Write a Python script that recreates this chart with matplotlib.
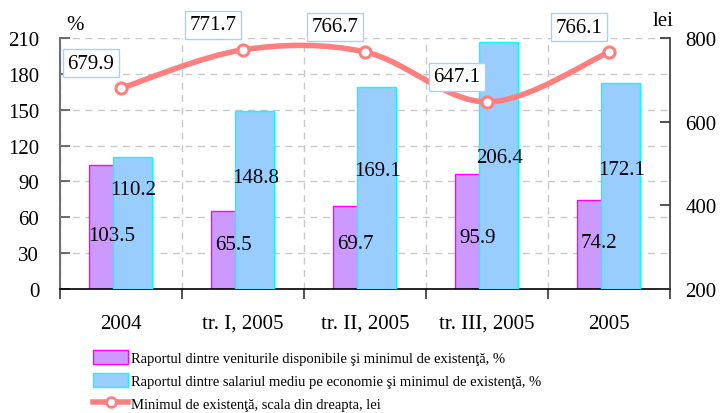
import numpy as np
import matplotlib.pyplot as plt
from matplotlib.path import Path
from matplotlib.patches import PathPatch, Patch
from matplotlib.lines import Line2D

categories = ["2004", "tr. I, 2005", "tr. II, 2005", "tr. III, 2005", "2005"]
ratio_income = [103.5, 65.5, 69.7, 95.9, 74.2]
ratio_salary = [110.2, 148.8, 169.1, 206.4, 172.1]
minimum_lei = [679.9, 771.7, 766.7, 647.1, 766.1]

left_ticks = [0, 30, 60, 90, 120, 150, 180, 210]
right_ticks = [200, 400, 600, 800]

legend_labels = [
    "Raportul dintre veniturile disponibile şi minimul de existenţă, %",
    "Raportul dintre salariul mediu pe economie şi minimul de existenţă, %",
    "Minimul de existenţă, scala din dreapta, lei",
]

PURPLE, PURPLE_EDGE = "#CC99FF", "#FF00FF"
BLUE, BLUE_EDGE = "#99CCFF", "#00FFFF"
LINE = "#FF7F7F"
GRID = "#C8C8C8"

plt.rcParams["font.family"] = ["Liberation Serif", "DejaVu Serif"]

fig = plt.figure(figsize=(7.2, 4.14), dpi=100)
ax = fig.add_axes([60 / 720, 1 - 290 / 414, 610 / 720, 251 / 414])
x = np.arange(len(categories))

width = 0.32
ax.bar(x - 0.10, ratio_income, width, color=PURPLE, edgecolor=PURPLE_EDGE,
       linewidth=1.0, zorder=2)
ax.bar(x + 0.094, ratio_salary, width, color=BLUE, edgecolor=BLUE_EDGE,
       linewidth=1.0, zorder=3)

# data labels sit inside the bars, roughly like the original layout
for xi, v in zip(x, ratio_income):
    ax.text(xi - 0.08, v * 0.2 + 24, f"{v:.1f}", ha="center", va="center",
            fontsize=15, zorder=5)
for xi, v in zip(x, ratio_salary):
    ax.text(xi + 0.1, v * 0.28 + 52, f"{v:.1f}", ha="center", va="center",
            fontsize=15, zorder=5)

ax.set_xlim(-0.5, len(categories) - 0.5)
ax.set_ylim(0, 210)
ax.set_yticks(left_ticks)
ax.set_xticks(x)
ax.set_xticklabels(categories, fontsize=15)
ax.set_xticks(np.arange(len(categories) + 1) - 0.5, minor=True)
ax.tick_params(axis="x", which="major", length=0, pad=18)
ax.tick_params(axis="x", which="minor", length=7, width=1.2, direction="out",
               color="#333333")
ax.tick_params(axis="y", which="major", direction="in", length=7, width=1.2,
               labelsize=15, pad=15, color="#555555")
ax.grid(axis="y", color=GRID, linestyle=(0, (5, 4)), linewidth=1.0, zorder=0)
ax.grid(axis="x", which="minor", color=GRID, linestyle=(0, (5, 4)),
        linewidth=1.0, zorder=0)
ax.set_axisbelow(True)
for s in ["top", "right"]:
    ax.spines[s].set_visible(False)
ax.spines["left"].set_color("#707070")
ax.spines["left"].set_linewidth(1.5)
ax.spines["bottom"].set_color("black")
ax.spines["bottom"].set_linewidth(1.2)

ax2 = ax.twinx()
ax2.set_ylim(200, 800)
ax2.set_yticks(right_ticks)
ax2.tick_params(axis="y", direction="in", length=7, width=1.2,
                labelsize=15, pad=11, color="#333333")
for s in ["top", "left", "bottom"]:
    ax2.spines[s].set_visible(False)
ax2.spines["right"].set_color("#333333")
ax2.spines["right"].set_linewidth(1.2)

# smoothed line (Catmull-Rom as cubic Bezier through the data points)
pts = np.column_stack([x, minimum_lei]).astype(float)
verts = [pts[0]]
codes = [Path.MOVETO]
n = len(pts)
for i in range(n - 1):
    p0 = pts[max(i - 1, 0)]
    p1 = pts[i]
    p2 = pts[i + 1]
    p3 = pts[min(i + 2, n - 1)]
    verts += [p1 + (p2 - p0) / 6, p2 - (p3 - p1) / 6, p2]
    codes += [Path.CURVE4] * 3
ax2.add_patch(PathPatch(Path(verts, codes), facecolor="none", edgecolor=LINE,
                        linewidth=4, capstyle="round", zorder=6))
ax2.plot(x, minimum_lei, linestyle="none", marker="o", markersize=8,
         markerfacecolor="white", markeredgecolor=LINE, markeredgewidth=2.2,
         zorder=7)

for xi, v in zip(x, minimum_lei):
    ax2.annotate(f"{v:.1f}", (xi, v), xytext=(-30, 25),
                 textcoords="offset pixels", ha="center", va="center",
                 fontsize=15, zorder=8,
                 bbox=dict(boxstyle="square,pad=0.22", facecolor="white",
                           edgecolor="#A8D0F8", linewidth=1.0))

fig.text(75 / 720, 1 - 25 / 414, "%", ha="center", va="center", fontsize=15)
fig.text(663 / 720, 1 - 22 / 414, "lei", ha="center", va="center", fontsize=15)

handles = [
    Patch(facecolor=PURPLE, edgecolor=PURPLE_EDGE, linewidth=1.0),
    Patch(facecolor=BLUE, edgecolor=BLUE_EDGE, linewidth=1.0),
    Line2D([0], [0], color=LINE, linewidth=4, marker="o", markersize=7,
           markerfacecolor="white", markeredgecolor=LINE, markeredgewidth=2),
]
fig.legend(handles, legend_labels, loc="upper left",
           bbox_to_anchor=(86 / 720, 1 - 344 / 414), frameon=False,
           fontsize=10.5, handlelength=2.4, handleheight=1.1,
           handletextpad=0.2, labelspacing=0.55, borderpad=0)

fig.savefig("out.png", dpi=100)
